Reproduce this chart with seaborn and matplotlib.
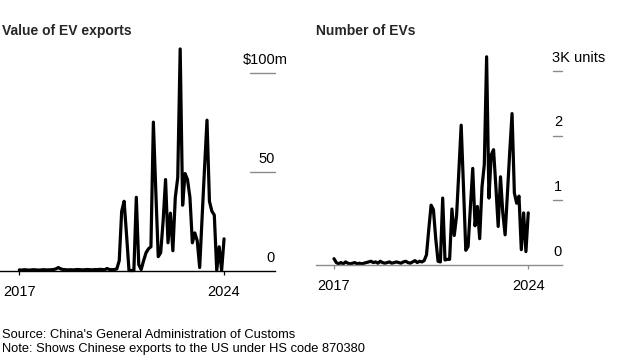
import numpy as np
import pandas as pd
import matplotlib
matplotlib.use("Agg")
import matplotlib.pyplot as plt
import matplotlib.transforms as mtransforms
import seaborn as sns

# ---------------- data (monthly, Jan 2017 .. Jan 2024) ----------------
value_musd = [
    0.3, 0.2, 0.4, 0.3, 0.2, 0.3, 0.4, 0.3, 0.2, 0.3,
    0.4, 0.3, 0.3, 0.4, 0.5, 0.8, 1.5, 0.8, 0.5, 0.4,
    0.3, 0.4, 0.3, 0.4, 0.5, 0.4, 0.3, 0.4, 0.5, 0.4,
    0.3, 0.5, 0.4, 0.6, 0.5, 0.4, 1.0, 0.5, 0.4, 0.5,
    0.8, 5.0, 30.0, 35.0, 18.0, 0.0, 0.0, 0.0, 37.0, 3.0,
    0.5, 5.0, 9.0, 11.0, 12.0, 75.0, 40.0, 7.0, 9.0, 25.0,
    46.0, 14.0, 29.0, 10.0, 37.0, 47.0, 112.0, 33.0, 49.0, 46.0,
    37.0, 14.0, 19.0, 15.0, 1.5, 27.0, 52.0, 76.0, 35.0, 30.0,
    28.0, 0.0, 12.0, 0.0, 16.0,
]
units_k = [
    0.09, 0.03, 0.01, 0.03, 0.01, 0.04, 0.02, 0.01, 0.02, 0.03,
    0.01, 0.02, 0.01, 0.02, 0.03, 0.04, 0.05, 0.03, 0.04, 0.02,
    0.05, 0.03, 0.02, 0.03, 0.04, 0.02, 0.03, 0.04, 0.03, 0.02,
    0.04, 0.05, 0.03, 0.02, 0.04, 0.06, 0.03, 0.05, 0.04, 0.06,
    0.15, 0.55, 0.92, 0.85, 0.40, 0.05, 0.04, 1.03, 0.07, 0.08,
    0.08, 0.86, 0.45, 0.75, 1.45, 2.16, 1.20, 0.22, 0.28, 0.90,
    1.49, 0.60, 0.90, 0.40, 1.20, 1.55, 3.22, 1.03, 1.70, 1.78,
    1.21, 0.59, 1.36, 0.80, 0.46, 1.10, 1.75, 2.34, 1.11, 0.95,
    1.06, 0.23, 0.80, 0.20, 0.80,
]
month_index = list(range(len(value_musd)))
xtick_pos = [0, 84]
xtick_labels = ["2017", "2024"]

left_ticks = [0, 50, 100]
left_labels = ["0", "50", "$100m"]
right_ticks = [0, 1, 2, 3]
right_labels = ["0", "1", "2", "3K units"]

titles = ["Value of EV exports", "Number of EVs"]
footer = ["Source: China's General Administration of Customs",
          "Note: Shows Chinese exports to the US under HS code 870380"]

# ---------------- style ----------------
sns.set_style("white")
plt.rcParams["font.family"] = ["Liberation Sans", "DejaVu Sans"]

W, H = 618, 357
fig = plt.figure(figsize=(W / 100, H / 100), dpi=100)

def fx(px):
    return px / W

def fy(py):
    return 1 - py / H

df = pd.DataFrame({"m": month_index, "value": value_musd, "units": units_k})

def make_panel(rect, col, ylim, xlim, ticks, labels, spine_color, grid_x0, label_left_x):
    ax = fig.add_axes(rect)
    sns.lineplot(data=df, x="m", y=col, ax=ax, color="black", linewidth=2.3,
                 clip_on=False)
    ax.set_xlim(*xlim)
    ax.set_ylim(*ylim)
    for s in ["top", "right", "left"]:
        ax.spines[s].set_visible(False)
    ax.spines["bottom"].set_color(spine_color)
    ax.spines["bottom"].set_linewidth(1.0)
    ax.set_yticks([])
    ax.set_xticks(xtick_pos)
    ax.set_xticklabels(xtick_labels)
    ax.tick_params(axis="x", length=3.2, width=0.9, color=spine_color, pad=7,
                   labelsize=10.5, labelcolor="black", bottom=True)
    ax.set_xlabel("")
    ax.set_ylabel("")
    trans = mtransforms.blended_transform_factory(ax.transAxes, ax.transData)
    off = mtransforms.offset_copy(trans, fig=fig, x=0, y=9 / 100 * 72, units="points")
    for t, lab in zip(ticks, labels):
        if t != 0:
            ax.plot([grid_x0, 1.0], [t, t], transform=trans, color="#8a8a8a",
                    linewidth=1.0, clip_on=False)
        if t == ticks[-1]:
            ax.text(label_left_x, t, lab, transform=off, ha="left", va="baseline",
                    fontsize=10.5, color="black")
        else:
            ax.text(1.0, t, lab, transform=off, ha="right", va="baseline",
                    fontsize=10.5, color="black")
    return ax

# left panel
l_axis_y, l_top = 270.5, 270.5 - 115 * 1.978
make_panel([fx(0), fy(l_axis_y), fx(275), (l_axis_y - l_top) / H], "value",
           (0, 115), (-7.92, 104.9), left_ticks, left_labels, "black",
           250 / 275, 243 / 275)

# right panel
r_axis_y, r_top = 264.5, 264.5 - 3.5 * 64.5
make_panel([fx(316), fy(r_axis_y), fx(562 - 316), (r_axis_y - r_top) / H], "units",
           (0, 3.5), (-7.78, 98.6), right_ticks, right_labels, "#8c8c8c",
           (553 - 316) / 246, (552 - 316) / 246)

fig.text(fx(2), fy(35), titles[0], fontsize=10, fontweight="bold", va="baseline")
fig.text(fx(316), fy(35), titles[1], fontsize=10, fontweight="bold", va="baseline")
fig.text(fx(2), fy(338), footer[0], fontsize=9.3, va="baseline", color="black")
fig.text(fx(2), fy(352), footer[1], fontsize=9.3, va="baseline", color="black")

fig.savefig("out.png", dpi=100)
